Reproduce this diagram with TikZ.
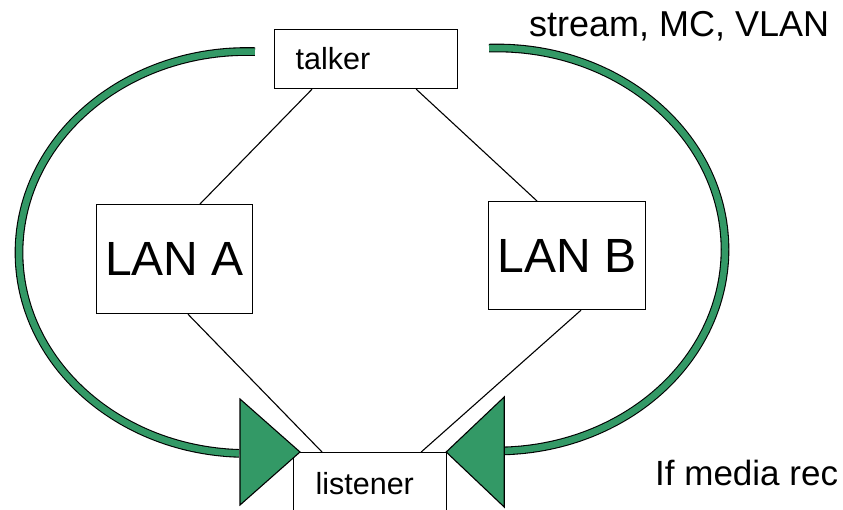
\documentclass[tikz,border=0pt]{standalone}
\usepackage{fontspec}
\setmainfont{Liberation Sans}
\usetikzlibrary{positioning,calc}
\definecolor{streamgreen}{RGB}{51,153,102}

\begin{document}
\begin{tikzpicture}[x=1pt,y=1pt,
  box/.style={draw,line width=1.2pt,fill=white},
  link/.style={draw,line width=1.1pt},
  flow/.style={draw=black,line width=1.1pt,double=streamgreen,double distance=6.5pt},
  head/.style={fill=streamgreen,draw=black,line width=1.1pt,line join=miter}]
  \useasboundingbox (0,0) rectangle (843,-510);

  % boxes
  \node[box,anchor=north west,text width=141pt,inner xsep=21pt,minimum height=59pt,
        align=left,font=\fontsize{30.5}{36}\selectfont] (talker) at (274,-29) {talker};
  \node[box,anchor=north west,minimum width=156pt,minimum height=109pt,
        font=\fontsize{48}{56}\selectfont] (lanA) at (96,-204) {LAN A};
  \node[box,anchor=north west,minimum width=157pt,minimum height=108pt,
        font=\fontsize{48}{56}\selectfont] (lanB) at (488,-201) {LAN B};
  \node[box,anchor=north west,text width=109pt,inner xsep=22pt,minimum height=62pt,
        align=left,font=\fontsize{30.5}{36}\selectfont] (listener) at (293,-452) {listener};

  % links
  \draw[link] ([xshift=38pt]talker.south west) -- ([xshift=104pt]lanA.north west);
  \draw[link] ([xshift=-42pt]talker.south east) -- ([xshift=49pt]lanB.north west);
  \draw[link] ([xshift=92pt]lanA.south west) -- ([xshift=29pt]listener.north west);
  \draw[link] ([xshift=93pt]lanB.south west) -- ([xshift=-26pt]listener.north east);

  % stream paths
  \coordinate (loopA) at (247,-252.5);
  \coordinate (loopB) at (497,-249.5);
  \draw[flow] (loopA) ++(88:228 and 201) arc[start angle=88,end angle=268,x radius=228,y radius=201];
  \draw[flow] (loopB) ++(92:228 and 201.5) arc[start angle=92,end angle=-88.5,x radius=228,y radius=201.5];
  \filldraw[head] ([xshift=7pt]listener.north west) -- ++(-60,53) -- ++(0,-106) -- cycle;
  \filldraw[head] ([xshift=-1pt]listener.north east) -- ++(58,55) -- ++(0,-110) -- cycle;

  % labels
  \node[anchor=base west,inner sep=0pt,font=\fontsize{36}{42}\selectfont] (streamlabel) at (529,-37) {stream, MC, VLAN};
  \node[anchor=base west,inner sep=0pt,font=\fontsize{35}{42}\selectfont] (note) at (655,-485) {If media rec};
\end{tikzpicture}
\end{document}
